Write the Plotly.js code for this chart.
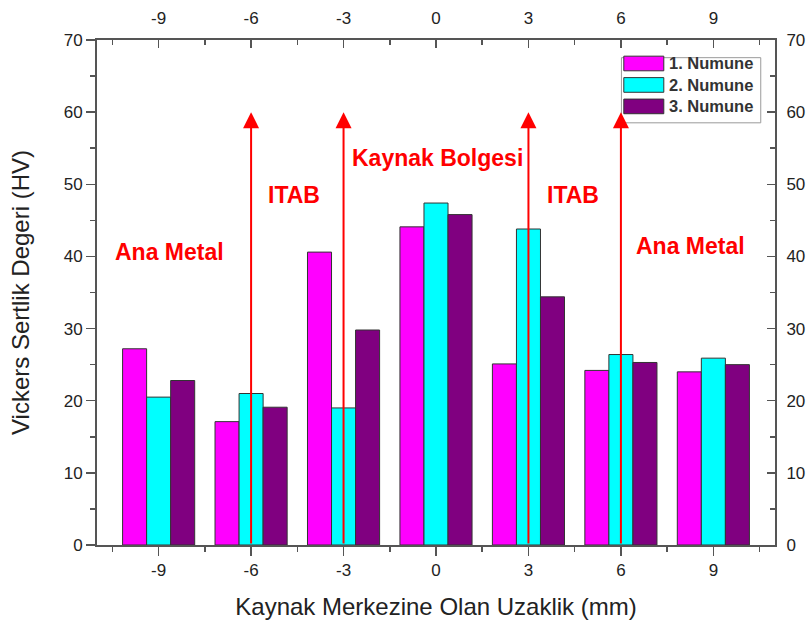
<!DOCTYPE html>
<html>
<head>
<meta charset="utf-8">
<script src="https://cdn.plot.ly/plotly-3.0.1.min.js"></script>
<style>html,body{margin:0;padding:0;background:#fff;}#chart{width:810px;height:625px;}</style>
</head>
<body>
<div id="chart"></div>
<script>
// ---- data ----
const xPositions = [-9, -6, -3, 0, 3, 6, 9];
const tickLabels = ['-9', '-6', '-3', '0', '3', '6', '9'];
const numune1 = [27.2, 17.1, 40.6, 44.1, 25.1, 24.2, 24.0];
const numune2 = [20.5, 21.0, 19.0, 47.4, 43.8, 26.4, 25.9];
const numune3 = [22.8, 19.1, 29.8, 45.8, 34.4, 25.3, 25.0];
const seriesNames = ['1. Numune', '2. Numune', '3. Numune'];
const seriesColors = ['#FF00FF', '#00FFFF', '#800080'];
const arrowX = [-6, -3, 3, 6];
const arrowTop = 60;
const regionLabels = ['Ana Metal', 'ITAB', 'Kaynak Bolgesi', 'ITAB', 'Ana Metal'];
const regionX = [-8.66, -4.62, 0.05, 4.44, 8.27];
const regionY = [40.6, 48.5, 53.6, 48.5, 41.4];

const FONT = 'Liberation Sans, Arial, sans-serif';
const seriesValues = [numune1, numune2, numune3];

const traces = seriesValues.map((vals, i) => ({
  type: 'bar',
  x: xPositions,
  y: vals,
  name: seriesNames[i],
  marker: {color: seriesColors[i], line: {color: '#333333', width: 1}},
  showlegend: false,
  hoverinfo: 'x+y+name'
}));
// invisible helper trace so the secondary (top/right) axes render
traces.push({
  type: 'scatter', mode: 'markers', x: xPositions, y: numune1,
  xaxis: 'x2', yaxis: 'y2', marker: {opacity: 0}, showlegend: false, hoverinfo: 'skip'
});

const annotations = [];
arrowX.forEach(ax => {
  annotations.push({
    x: ax, y: arrowTop, xref: 'x', yref: 'y',
    ax: ax, ay: 0, axref: 'x', ayref: 'y',
    text: '', showarrow: true, arrowhead: 2, arrowsize: 1.6, arrowwidth: 2,
    arrowcolor: '#FF0000', standoff: 0, startstandoff: 0
  });
});
regionLabels.forEach((t, i) => {
  annotations.push({
    x: regionX[i], y: regionY[i], xref: 'x', yref: 'y', text: '<b>' + t + '</b>',
    showarrow: false, font: {family: FONT, size: 23, color: '#FF0000'}
  });
});

// custom legend (paper coords)
const shapes = [];
const lgX0 = 0.7735, lgX1 = 0.979, lgY0 = 0.836, lgY1 = 0.965;
shapes.push({type: 'rect', xref: 'paper', yref: 'paper', x0: lgX0, x1: lgX1, y0: lgY0, y1: lgY1,
  line: {color: '#9a9a9a', width: 1}, fillcolor: 'rgba(255,255,255,0)'});
const rowCenters = [0.9535, 0.911, 0.8685];
seriesNames.forEach((n, i) => {
  shapes.push({type: 'rect', xref: 'paper', yref: 'paper',
    x0: 0.777, x1: 0.836, y0: rowCenters[i] - 0.0145, y1: rowCenters[i] + 0.0145,
    fillcolor: seriesColors[i], line: {color: '#333333', width: 1}});
  annotations.push({xref: 'paper', yref: 'paper', x: 0.841, y: rowCenters[i],
    xanchor: 'left', yanchor: 'middle', showarrow: false, text: '<b>' + n + '</b>',
    font: {family: FONT, size: 16.5, color: '#333333'}});
});

const axisCommon = {
  showgrid: false, zeroline: false, showline: true, linecolor: '#555555', linewidth: 2,
  tickcolor: '#555555', tickwidth: 1.5,
  tickfont: {family: FONT, size: 17, color: '#222222'}
};

const layout = {
  width: 810, height: 625,
  margin: {l: 97, r: 35, t: 40, b: 80, pad: 0},
  paper_bgcolor: '#ffffff', plot_bgcolor: '#ffffff',
  barmode: 'group', bargap: 0.22, bargroupgap: 0,
  font: {family: FONT},
  xaxis: Object.assign({}, axisCommon, {
    range: [-11, 11], tickmode: 'array', tickvals: xPositions, ticktext: tickLabels,
    ticks: 'outside', ticklen: 9,
    minor: {dtick: 1.5, tick0: 0, ticks: 'outside', ticklen: 5, tickcolor: '#555555', tickwidth: 1.5},
    title: {text: 'Kaynak Merkezine Olan Uzaklik (mm)', font: {family: FONT, size: 24, color: '#222222'}, standoff: 19}
  }),
  xaxis2: Object.assign({}, axisCommon, {
    overlaying: 'x', side: 'top', matches: 'x', range: [-11, 11],
    tickmode: 'array', tickvals: xPositions, ticktext: tickLabels,
    ticks: 'inside', ticklen: 8, ticklabelstandoff: 7,
    minor: {dtick: 1.5, tick0: 0, ticks: 'inside', ticklen: 5, tickcolor: '#555555', tickwidth: 1.5}
  }),
  yaxis: Object.assign({}, axisCommon, {
    range: [0, 70], dtick: 10, ticks: 'outside', ticklen: 9,
    minor: {dtick: 5, ticks: 'outside', ticklen: 5, tickcolor: '#555555', tickwidth: 1.5},
    title: {text: 'Vickers Sertlik Degeri (HV)', font: {family: FONT, size: 24, color: '#222222'}, standoff: 27}
  }),
  yaxis2: Object.assign({}, axisCommon, {
    overlaying: 'y', side: 'right', matches: 'y', range: [0, 70], dtick: 10,
    ticks: 'inside', ticklen: 8, ticklabelstandoff: 6,
    minor: {dtick: 5, ticks: 'inside', ticklen: 5, tickcolor: '#555555', tickwidth: 1.5}
  }),
  shapes: shapes,
  annotations: annotations
};

Plotly.newPlot('chart', traces, layout, {displayModeBar: false, staticPlot: true});
</script>
</body>
</html>
